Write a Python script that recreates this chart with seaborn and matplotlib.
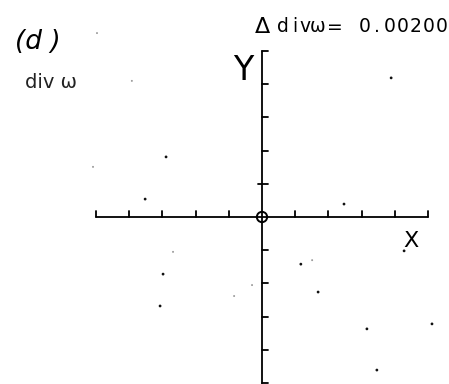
import numpy as np
import pandas as pd
import matplotlib
matplotlib.use("Agg")
import matplotlib.pyplot as plt
import seaborn as sns

# --- datos (unidades de la rejilla) ---
tick_pos = [-5, -4, -3, -2, -1, 1, 2, 3, 4, 5]
dot_x = [3.89, 2.47, -2.89, -3.52, -2.98, -3.07, 4.28, 1.17, 1.69, 3.16, 5.12, 3.46,
         -3.92, -5.09, 1.51, -2.68, -0.84, -0.30, -4.97]
dot_y = [4.19, 0.39, 1.81, 0.54, -1.72, -2.68, -1.02, -1.42, -2.26, -3.37, -3.22, -4.61,
         4.10, 1.51, -1.30, -1.05, -2.38, -2.05, 5.54]
dot_shade = ['dark'] * 12 + ['faint'] * 7
title_chars = list("Δdivω=0.00200")
title_px = [262, 283, 295, 305, 318, 335, 365, 377, 390, 403, 416, 429, 442]

df = pd.DataFrame({'x': dot_x, 'y': dot_y, 'tono': dot_shade})

sns.set_theme(style="white")
plt.rcParams['font.family'] = ['DejaVu Sans']

W, H = 449, 384
ox, oy, unit = 262, 217, 33.2   # origen y escala en pixeles

fig = plt.figure(figsize=(W / 100, H / 100), dpi=100)
ax = fig.add_axes([0, 0, 1, 1])
ax.set_xlim(-ox / unit, (W - ox) / unit)
ax.set_ylim(-(H - oy) / unit, oy / unit)
ax.axis('off')

lw = 1.3
tl = 0.18
# ejes
ax.plot([-5, 5], [0, 0], color='black', lw=lw)
ax.plot([0, 0], [-5.1, 5], color='black', lw=lw)
# marcas del eje X (hacia arriba)
for t in tick_pos:
    ax.plot([t, t], [0, tl], color='black', lw=lw)
# marcas del eje Y (hacia la derecha)
for t in tick_pos:
    if t == 1:
        ax.plot([-0.12, tl], [t, t], color='black', lw=lw)
    else:
        ax.plot([0, tl], [t, t], color='black', lw=lw)

# circulo en el origen
ax.scatter([0], [0], s=55, facecolors='none', edgecolors='black', linewidths=1.4, zorder=5)

# puntos
sns.scatterplot(data=df, x='x', y='y', hue='tono', size='tono',
                palette={'dark': '#111111', 'faint': '#999999'},
                sizes={'dark': 4, 'faint': 2}, linewidth=0, legend=False, ax=ax)
ax.set_xlabel('')
ax.set_ylabel('')


def fx(px):
    return px / W


def fy(py):
    return 1 - py / H


# textos
for ch, px in zip(title_chars, title_px):
    fs = 16 if ch == 'Δ' else 13.5
    fig.text(fx(px), fy(27), ch, ha='center', va='center', fontsize=fs, color='black')

fig.text(fx(38), fy(42), '(d )', ha='center', va='center', fontsize=19,
         style='italic', color='black')
fig.text(fx(51), fy(82), 'div ω', ha='center', va='center', fontsize=14, color='#222222')
fig.text(fx(243), fy(70), 'Y', ha='center', va='center', fontsize=24, color='black')
fig.text(fx(411), fy(241), 'X', ha='center', va='center', fontsize=16, color='black')

plt.savefig('out.png', dpi=100)
print("Grafico guardado.")
